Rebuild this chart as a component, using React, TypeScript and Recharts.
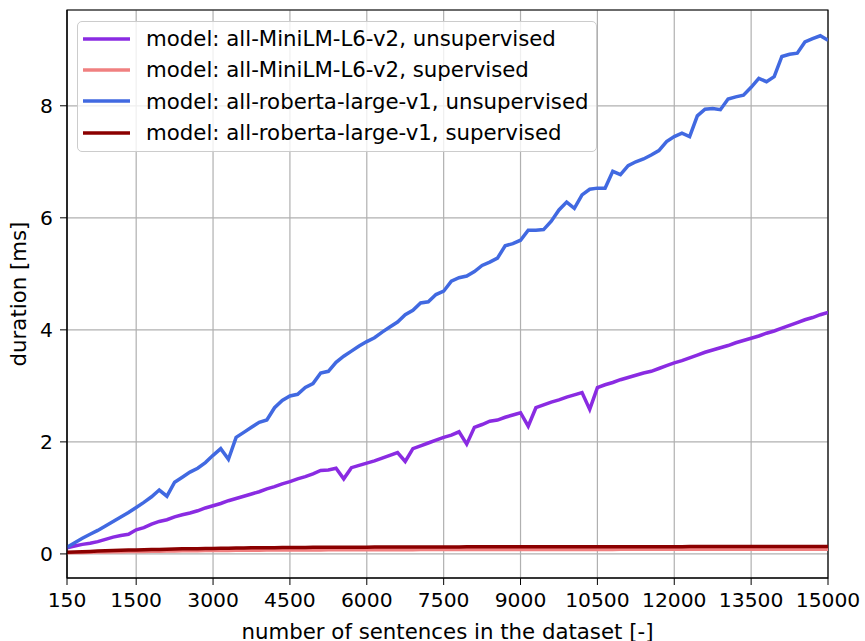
import React from 'react';
import { LineChart, Line, XAxis, YAxis, CartesianGrid, ReferenceArea } from 'recharts';

const sentences = [
  150, 300, 450, 600, 750, 900, 1050, 1200, 1350, 1500,
  1650, 1800, 1950, 2100, 2250, 2400, 2550, 2700, 2850, 3000,
  3150, 3300, 3450, 3600, 3750, 3900, 4050, 4200, 4350, 4500,
  4650, 4800, 4950, 5100, 5250, 5400, 5550, 5700, 5850, 6000,
  6150, 6300, 6450, 6600, 6750, 6900, 7050, 7200, 7350, 7500,
  7650, 7800, 7950, 8100, 8250, 8400, 8550, 8700, 8850, 9000,
  9150, 9300, 9450, 9600, 9750, 9900, 10050, 10200, 10350, 10500,
  10650, 10800, 10950, 11100, 11250, 11400, 11550, 11700, 11850, 12000,
  12150, 12300, 12450, 12600, 12750, 12900, 13050, 13200, 13350, 13500,
  13650, 13800, 13950, 14100, 14250, 14400, 14550, 14700, 14850, 15000,
];

const miniUnsup = [
  0.11, 0.14, 0.17, 0.19, 0.22, 0.26, 0.3, 0.33, 0.35, 0.43,
  0.47, 0.53, 0.58, 0.61, 0.66, 0.7, 0.73, 0.77, 0.82, 0.86,
  0.9, 0.95, 0.99, 1.03, 1.07, 1.11, 1.16, 1.2, 1.25, 1.29,
  1.34, 1.38, 1.43, 1.49, 1.5, 1.53, 1.34, 1.54, 1.58, 1.62,
  1.66, 1.71, 1.76, 1.81, 1.65, 1.88, 1.93, 1.98, 2.03, 2.08,
  2.12, 2.18, 1.96, 2.26, 2.31, 2.37, 2.39, 2.44, 2.48, 2.52,
  2.28, 2.61, 2.66, 2.71, 2.75, 2.8, 2.84, 2.88, 2.58, 2.97,
  3.02, 3.06, 3.11, 3.15, 3.19, 3.23, 3.26, 3.31, 3.36, 3.41,
  3.45, 3.5, 3.55, 3.6, 3.64, 3.68, 3.72, 3.77, 3.81, 3.85,
  3.89, 3.94, 3.98, 4.03, 4.08, 4.13, 4.18, 4.22, 4.27, 4.31,
];

const miniSup = [
  0.02, 0.023, 0.026, 0.029, 0.032, 0.035, 0.037, 0.039, 0.041, 0.043,
  0.045, 0.047, 0.049, 0.051, 0.053, 0.055, 0.056, 0.058, 0.059, 0.06,
  0.062, 0.063, 0.064, 0.065, 0.066, 0.067, 0.068, 0.069, 0.07, 0.07,
  0.071, 0.071, 0.072, 0.072, 0.073, 0.073, 0.074, 0.074, 0.074, 0.075,
  0.075, 0.075, 0.076, 0.076, 0.076, 0.076, 0.077, 0.077, 0.077, 0.077,
  0.078, 0.078, 0.078, 0.078, 0.078, 0.079, 0.079, 0.079, 0.079, 0.079,
  0.08, 0.08, 0.08, 0.08, 0.08, 0.08, 0.081, 0.081, 0.081, 0.081,
  0.081, 0.081, 0.082, 0.082, 0.082, 0.082, 0.082, 0.082, 0.082, 0.083,
  0.083, 0.083, 0.083, 0.083, 0.083, 0.083, 0.084, 0.084, 0.084, 0.084,
  0.084, 0.084, 0.084, 0.085, 0.085, 0.085, 0.085, 0.085, 0.085, 0.085,
];

const robertaUnsup = [
  0.12, 0.2, 0.28, 0.35, 0.42, 0.5, 0.58, 0.66, 0.74, 0.83,
  0.92, 1.02, 1.14, 1.03, 1.28, 1.37, 1.46, 1.53, 1.63, 1.76,
  1.88, 1.69, 2.08, 2.17, 2.26, 2.35, 2.39, 2.61, 2.74, 2.82,
  2.85, 2.97, 3.04, 3.23, 3.26, 3.42, 3.53, 3.62, 3.71, 3.79,
  3.86, 3.96, 4.05, 4.14, 4.27, 4.35, 4.48, 4.5, 4.63, 4.69,
  4.87, 4.93, 4.96, 5.04, 5.15, 5.21, 5.28, 5.5, 5.54, 5.6,
  5.78, 5.78, 5.79, 5.94, 6.14, 6.28, 6.17, 6.41, 6.51, 6.53,
  6.53, 6.83, 6.77, 6.93, 7.0, 7.05, 7.12, 7.2, 7.36, 7.45,
  7.51, 7.45, 7.82, 7.94, 7.95, 7.93, 8.12, 8.16, 8.19, 8.33,
  8.49, 8.43, 8.52, 8.88, 8.92, 8.94, 9.14, 9.2, 9.25, 9.17,
];

const robertaSup = [
  0.03, 0.035, 0.04, 0.045, 0.05, 0.055, 0.06, 0.064, 0.068, 0.072,
  0.075, 0.078, 0.081, 0.084, 0.087, 0.09, 0.092, 0.094, 0.096, 0.098,
  0.1, 0.102, 0.104, 0.106, 0.108, 0.11, 0.111, 0.112, 0.113, 0.114,
  0.115, 0.116, 0.117, 0.118, 0.118, 0.119, 0.12, 0.12, 0.121, 0.121,
  0.122, 0.122, 0.123, 0.123, 0.123, 0.124, 0.124, 0.124, 0.125, 0.125,
  0.125, 0.125, 0.126, 0.126, 0.126, 0.126, 0.127, 0.127, 0.127, 0.127,
  0.127, 0.128, 0.128, 0.128, 0.128, 0.128, 0.128, 0.129, 0.129, 0.129,
  0.129, 0.129, 0.129, 0.13, 0.13, 0.13, 0.13, 0.13, 0.13, 0.13,
  0.13, 0.131, 0.131, 0.131, 0.131, 0.131, 0.131, 0.131, 0.132, 0.132,
  0.132, 0.132, 0.133, 0.134, 0.134, 0.133, 0.132, 0.132, 0.132, 0.132,
];

const xTicks = [150, 1500, 3000, 4500, 6000, 7500, 9000, 10500, 12000, 13500, 15000];
const yTicks = [0, 2, 4, 6, 8];

const series = [
  { key: 'miniUnsup', name: 'model: all-MiniLM-L6-v2, unsupervised', color: '#8a2be2' },
  { key: 'miniSup', name: 'model: all-MiniLM-L6-v2, supervised', color: '#f08080' },
  { key: 'robertaUnsup', name: 'model: all-roberta-large-v1, unsupervised', color: '#4169e1' },
  { key: 'robertaSup', name: 'model: all-roberta-large-v1, supervised', color: '#8b0000' },
];

const data = sentences.map((x, i) => ({
  x,
  miniUnsup: miniUnsup[i],
  miniSup: miniSup[i],
  robertaUnsup: robertaUnsup[i],
  robertaSup: robertaSup[i],
}));

const font = "'DejaVu Sans', sans-serif";
const Y_MIN = -0.43;
const Y_MAX = 9.71;
const TICK_SIZE = 20.3;
const LABEL_SIZE = 21.3;

// drawn as an overlay, so it does not eat into the plot area
function LegendBox() {
  return (
    <div
      style={{
        position: 'absolute',
        left: 77,
        top: 21,
        width: 520,
        height: 131,
        boxSizing: 'border-box',
        border: '1.5px solid #cccccc',
        borderRadius: 5,
        background: 'rgba(255,255,255,0.8)',
        padding: '1px 0 0 5px',
        fontFamily: font,
        fontSize: LABEL_SIZE,
        color: '#000',
      }}
    >
      {series.map((s) => (
        <div key={s.key} style={{ display: 'flex', alignItems: 'center', height: 31.3 }}>
          <svg width={47} height={8} style={{ flexShrink: 0 }}>
            <line x1={0} y1={4} x2={47} y2={4} stroke={s.color} strokeWidth={3.5} />
          </svg>
          <span style={{ marginLeft: 16, whiteSpace: 'nowrap' }}>{s.name}</span>
        </div>
      ))}
    </div>
  );
}

export default function App() {
  return (
    <div style={{ position: 'relative', width: 865, height: 641 }}>
      <style>{'body { margin: 0; }'}</style>
      <LineChart width={865} height={641} data={data} margin={{ top: 10, right: 37, left: 0, bottom: 0 }}>
        <CartesianGrid stroke="#b0b0b0" strokeWidth={1.2} />
        <XAxis
          dataKey="x"
          type="number"
          domain={[150, 15000]}
          ticks={xTicks}
          allowDataOverflow
          height={63}
          tickSize={7}
          tickLine={{ stroke: '#000' }}
          axisLine={{ stroke: '#000' }}
          tick={{ fill: '#000', fontSize: TICK_SIZE, fontFamily: font }}
          tickMargin={8}
          interval={0}
          label={{ value: 'number of sentences in the dataset [-]', position: 'insideBottom', offset: 2, fill: '#000', fontSize: LABEL_SIZE, fontFamily: font }}
        />
        <YAxis
          type="number"
          domain={[Y_MIN, Y_MAX]}
          ticks={yTicks}
          allowDataOverflow
          width={67}
          tickSize={7}
          tickLine={{ stroke: '#000' }}
          axisLine={{ stroke: '#000' }}
          tick={{ fill: '#000', fontSize: TICK_SIZE, fontFamily: font }}
          tickMargin={7}
          label={{ value: 'duration [ms]', angle: -90, position: 'insideLeft', offset: 18, fill: '#000', fontSize: LABEL_SIZE, fontFamily: font, style: { textAnchor: 'middle' } }}
        />
        <ReferenceArea x1={150} x2={15000} y1={Y_MIN} y2={Y_MAX} fill="none" stroke="#000" strokeWidth={1.2} />
        {series.map((s) => (
          <Line
            key={s.key}
            dataKey={s.key}
            name={s.name}
            stroke={s.color}
            strokeWidth={3.5}
            dot={false}
            type="linear"
            isAnimationActive={false}
          />
        ))}
      </LineChart>
      <LegendBox />
    </div>
  );
}
